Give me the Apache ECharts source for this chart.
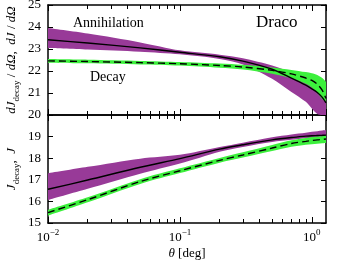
<!DOCTYPE html>
<html><head><meta charset="utf-8">
<script src="https://cdn.jsdelivr.net/npm/echarts@6/dist/echarts.min.js"></script>
<style>html,body{margin:0;padding:0;background:#fff}#c{width:340px;height:260px}</style>
</head><body><div id="c"></div>
<script>
// angle theta [deg]
const theta = [0.01, 0.02, 0.05, 0.1, 0.2, 0.3, 0.5, 0.7, 0.9, 1.0, 1.1, 1.2, 1.28];
// top panel: log10 dJ/dOmega (annihilation) and dJ_decay/dOmega
const annDiff   = [23.42, 23.27, 23.05, 22.85, 22.65, 22.45, 22.08, 21.68, 21.36, 21.19, 21.02, 20.80, 20.55];
const annDiffHi = [23.95, 23.70, 23.30, 22.94, 22.74, 22.58, 22.25, 21.95, 21.68, 21.55, 21.35, 21.10, 20.80];
const annDiffLo = [23.05, 22.98, 22.88, 22.76, 22.55, 22.30, 21.65, 21.05, 20.60, 20.30, 20.05, 20.00, 20.00];
const decDiff   = [22.46, 22.43, 22.38, 22.33, 22.25, 22.18, 22.03, 21.87, 21.68, 21.57, 21.40, 21.12, 20.75];
const decDiffHi = [22.54, 22.51, 22.46, 22.41, 22.34, 22.28, 22.16, 22.05, 21.95, 21.90, 21.82, 21.68, 21.50];
const decDiffLo = [22.38, 22.35, 22.30, 22.25, 22.15, 22.07, 21.88, 21.68, 21.42, 21.25, 21.00, 20.72, 20.60];
// bottom panel: log10 J and J_decay
const annInt   = [16.56, 16.99, 17.58, 17.98, 18.42, 18.62, 18.85, 18.96, 19.02, 19.04, 19.05, 19.06, 19.07];
const annIntHi = [17.30, 17.60, 17.98, 18.16, 18.52, 18.72, 18.97, 19.10, 19.18, 19.22, 19.25, 19.28, 19.30];
const annIntLo = [16.06, 16.58, 17.28, 17.75, 18.30, 18.52, 18.75, 18.85, 18.92, 18.95, 18.97, 18.99, 19.00];
const decInt   = [15.48, 16.08, 16.92, 17.42, 17.90, 18.15, 18.47, 18.68, 18.78, 18.82, 18.85, 18.87, 18.89];
const decIntHi = [15.61, 16.19, 17.03, 17.53, 18.01, 18.27, 18.61, 18.83, 18.94, 18.98, 19.00, 19.02, 19.04];
const decIntLo = [15.34, 15.96, 16.81, 17.31, 17.79, 18.03, 18.33, 18.53, 18.62, 18.65, 18.67, 18.69, 18.70];
// axis settings
const thetaMin = 0.01, thetaMax = 1.28;
const topTicks = [20, 25], botTicks = [15, 20];

const FONT = 'Liberation Serif';
const PURPLE = '#983a98', GREEN = '#3cf03c';
const lx = theta.map(t => Math.log10(t));
const xmin = Math.log10(thetaMin), xmax = Math.log10(thetaMax);
const minorVals = [];
for (let d = -2; d <= 0; d++) for (let k = 2; k <= 9; k++) {
  const v = Math.log10(k * Math.pow(10, d));
  if (v < xmax) minorVals.push(v);
}
const pairs = arr => arr.map((v, i) => [lx[i], v]);
// value first so that stacking acts on the y value; encoded back with encode {x:1, y:0}
const yFirst = arr => arr.map((v, i) => [v, lx[i]]);
const diffs = (hi, lo) => hi.map((v, i) => [+(v - lo[i]).toFixed(4), lx[i]]);

function xAxes(g, showLabel) {
  const base = {gridIndex: g, type: 'value', min: xmin, max: xmax, interval: 1,
    splitLine: {show: false}};
  const line = {show: true, onZero: false, lineStyle: {color: '#000', width: 1.5}};
  const lab = {show: showLabel, margin: 5, fontFamily: FONT, fontSize: 13, color: '#000',
    formatter: v => '{b|10}{s|' + (v < 0 ? '\u2212' + Math.abs(v) : v) + '}',
    rich: {b: {fontFamily: FONT, fontSize: 13, color: '#000', padding: [5, 0, 0, 0], lineHeight: 14},
           s: {fontFamily: FONT, fontSize: 9, color: '#000', verticalAlign: 'top', lineHeight: 10}}};
  return [
    Object.assign({}, base, {position: 'bottom', axisLine: line,
      axisTick: {inside: true, length: 6, lineStyle: {color: '#000', width: 1}}, axisLabel: lab,
      name: showLabel ? '{i|\u03b8} [deg]' : '', nameLocation: 'middle', nameGap: 24,
      nameTextStyle: {fontFamily: FONT, fontSize: 13, color: '#000',
        rich: {i: {fontFamily: FONT, fontStyle: 'italic', fontSize: 13, color: '#000'}}}}),
    Object.assign({}, base, {position: 'bottom', axisLine: {show: false, onZero: false},
      axisTick: {inside: true, length: 4, customValues: minorVals, lineStyle: {color: '#000', width: 1}},
      axisLabel: {show: false}}),
    Object.assign({}, base, {position: 'top', axisLine: line,
      axisTick: {inside: true, length: 6, lineStyle: {color: '#000', width: 1}}, axisLabel: {show: false}}),
    Object.assign({}, base, {position: 'top', axisLine: {show: false, onZero: false},
      axisTick: {inside: true, length: 4, customValues: minorVals, lineStyle: {color: '#000', width: 1}},
      axisLabel: {show: false}})
  ];
}
function yAxes(g, range, name, showMax) {
  const base = {gridIndex: g, type: 'value', min: range[0], max: range[1], interval: 1,
    splitLine: {show: false}, axisLine: {show: true, onZero: false, lineStyle: {color: '#000', width: 1.5}},
    axisTick: {inside: true, length: 5, lineStyle: {color: '#000', width: 1}}};
  const rich = {
    i: {fontFamily: FONT, fontStyle: 'italic', fontSize: 13, color: '#000', lineHeight: 14, padding: [0, 0, 4, 0]},
    r: {fontFamily: FONT, fontSize: 13, color: '#000', lineHeight: 14, padding: [0, 0, 4, 0]},
    sub: {fontFamily: FONT, fontSize: 9, color: '#000', verticalAlign: 'bottom', lineHeight: 10}
  };
  return [
    Object.assign({}, base, {position: 'left',
      axisLabel: {show: true, margin: 7, fontFamily: FONT, fontSize: 13, color: '#000', showMaxLabel: showMax},
      name: name, nameLocation: 'middle', nameGap: 27, nameRotate: 90, nameMoveOverlap: false,
      nameTextStyle: {fontFamily: FONT, fontSize: 13, color: '#000', rich: rich}}),
    Object.assign({}, base, {position: 'right', axisLabel: {show: false}})
  ];
}

const option = {
  animation: false,
  backgroundColor: '#fff',
  grid: [
    {left: 48, top: 5, width: 278, height: 110, containLabel: false, outerBoundsMode: 'none'},
    {left: 48, top: 115, width: 278, height: 108, containLabel: false, outerBoundsMode: 'none'}
  ],
  xAxis: [].concat(xAxes(0, false), xAxes(1, true)),
  yAxis: [].concat(
    yAxes(0, topTicks, '{i|dJ}{sub|decay}{r| / }{i|d\u03a9}{r|,  }{i|dJ}{r| / }{i|d\u03a9}', true),
    yAxes(1, botTicks, '{i|J}{sub|decay}{r|,  }{i|J}', false)),
  graphic: [
    {type: 'text', left: 73, top: 16, style: {text: 'Annihilation', fontFamily: FONT, fontSize: 14, fill: '#000'}},
    {type: 'text', left: 90, top: 70, style: {text: 'Decay', fontFamily: FONT, fontSize: 14, fill: '#000'}},
    {type: 'text', left: 256, top: 14, style: {text: 'Draco', fontFamily: FONT, fontSize: 17, fill: '#000'}}
  ],
  series: []
};

function band(g, lo, hi, color, stack) {
  const xi = g * 4, yi = g * 2;
  return [
    {type: 'line', xAxisIndex: xi, yAxisIndex: yi, stack: stack, encode: {x: 1, y: 0}, data: yFirst(lo),
      showSymbol: false, symbol: 'none', smooth: 0.3, lineStyle: {opacity: 0, width: 0}, silent: true},
    {type: 'line', xAxisIndex: xi, yAxisIndex: yi, stack: stack, encode: {x: 1, y: 0}, data: diffs(hi, lo),
      showSymbol: false, symbol: 'none', smooth: 0.3, lineStyle: {opacity: 0, width: 0},
      areaStyle: {color: color, opacity: 1}, silent: true}
  ];
}
function curve(g, vals, dashed) {
  return {type: 'line', xAxisIndex: g * 4, yAxisIndex: g * 2, data: pairs(vals), showSymbol: false, symbol: 'none',
    smooth: 0.3, silent: true, lineStyle: {color: '#000', width: 1.4, type: dashed ? [7, 4] : 'solid'}};
}
option.series = [].concat(
  band(0, annDiffLo, annDiffHi, PURPLE, 'a0'),
  band(0, decDiffLo, decDiffHi, GREEN, 'd0'),
  band(1, annIntLo, annIntHi, PURPLE, 'a1'),
  band(1, decIntLo, decIntHi, GREEN, 'd1'),
  [curve(0, annDiff, false), curve(0, decDiff, true), curve(1, annInt, false), curve(1, decInt, true)]
);

const chart = echarts.init(document.getElementById('c'), null, {renderer: 'canvas'});
chart.setOption(option);
</script>
</body></html>
